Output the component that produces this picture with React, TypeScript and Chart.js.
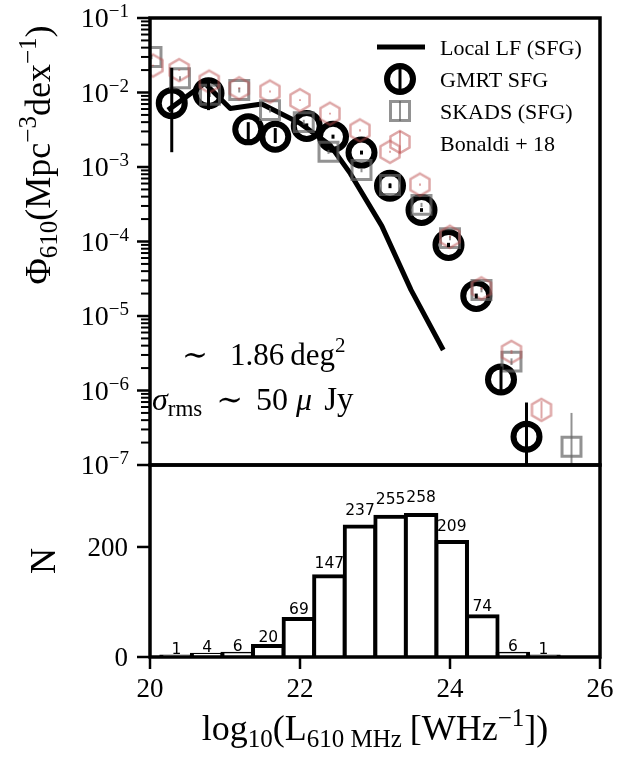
import { useEffect, useRef } from "react";
import { Chart, registerables } from "chart.js";

Chart.register(...registerables);

// ---- Luminosity function: log10 L610 [W/Hz] vs Phi [Mpc^-3 dex^-1] ----
const gmrtLogL = [20.29, 20.78, 21.31, 21.67, 22.09, 22.44, 22.82, 23.2, 23.62, 23.98, 24.35, 24.68, 25.02];
const gmrtPhi = [7.2e-3, 9.8e-3, 3.2e-3, 2.55e-3, 3.55e-3, 2.55e-3, 1.56e-3, 5.6e-4, 2.65e-4, 9.0e-5, 1.86e-5, 1.41e-6, 2.4e-7];
const gmrtPhiLow = [1.58e-3, 5.8e-3, 2.3e-3, 2.1e-3, 3.25e-3, 2.4e-3, 1.47e-3, 5.2e-4, 2.5e-4, 8.4e-5, 1.72e-5, 9.5e-7, 1e-8];
const gmrtPhiHigh = [2.14e-2, 1.57e-2, 4.0e-3, 3.33e-3, 3.85e-3, 2.72e-3, 1.66e-3, 6.0e-4, 2.8e-4, 9.6e-5, 2.0e-5, 2.1e-6, 6.9e-7];

const localLogL = [20.24, 20.73, 21.07, 21.49, 22.0, 22.4, 22.67, 23.09, 23.48, 23.91];
const localPhi = [5.8e-3, 1.33e-2, 6.1e-3, 7.0e-3, 3.86e-3, 1.97e-3, 8.2e-4, 1.62e-4, 2.24e-5, 3.5e-6];

const skadsLogL = [20.02, 20.4, 20.8, 21.19, 21.6, 22.05, 22.38, 22.82, 23.2, 23.62, 24.0, 24.42, 24.82, 25.62];
const skadsPhi = [3.0e-2, 1.55e-2, 9.3e-3, 1.08e-2, 5.8e-3, 4.0e-3, 1.6e-3, 9.1e-4, 5.75e-4, 3.1e-4, 1.11e-4, 2.24e-5, 2.44e-6, 1.76e-7];
const skadsPhiLow = [2.8e-2, 1.45e-2, 8.7e-3, 1.0e-2, 5.4e-3, 3.7e-3, 1.5e-3, 8.5e-4, 5.4e-4, 2.9e-4, 1.04e-4, 2.08e-5, 2.2e-6, 1e-8];
const skadsPhiHigh = [3.2e-2, 1.65e-2, 9.9e-3, 1.16e-2, 6.2e-3, 4.3e-3, 1.7e-3, 9.7e-4, 6.1e-4, 3.3e-4, 1.18e-4, 2.4e-5, 2.7e-6, 5.0e-7];

const bonaldiLogL = [20.04, 20.39, 20.79, 21.19, 21.6, 22.0, 22.4, 22.8, 23.2, 23.6, 24.0, 24.42, 24.82, 25.22];
const bonaldiPhi = [2.3e-2, 2.0e-2, 1.4e-2, 1.14e-2, 1.03e-2, 7.9e-3, 5.2e-3, 3.1e-3, 1.6e-3, 5.8e-4, 1.16e-4, 2.35e-5, 3.3e-6, 5.5e-7];
const bonaldiPhiLow = [2.25e-2, 1.95e-2, 1.37e-2, 1.11e-2, 1.0e-2, 7.7e-3, 5.05e-3, 3.0e-3, 1.55e-3, 5.6e-4, 1.12e-4, 2.25e-5, 3.1e-6, 4.2e-7];
const bonaldiPhiHigh = [2.35e-2, 2.05e-2, 1.43e-2, 1.17e-2, 1.06e-2, 8.1e-3, 5.35e-3, 3.2e-3, 1.65e-3, 6.0e-4, 1.2e-4, 2.45e-5, 3.5e-6, 7.2e-7];

// ---- Source counts per luminosity bin ----
const binCenters = [20.354, 20.762, 21.169, 21.577, 21.985, 22.392, 22.8, 23.208, 23.615, 24.023, 24.431, 24.838, 25.246];
const binCounts = [1, 4, 6, 20, 69, 147, 237, 255, 258, 209, 74, 6, 1];

// ---- Axis ticks ----
const phiExponents = [-1, -2, -3, -4, -5, -6, -7];
const lumTicks = [20, 22, 24, 26];
const countTicks = [0, 200];

const SERIF = '"Liberation Serif", "DejaVu Serif", serif';
const GMRT_C = "#000";
const SKADS_C = "rgba(100,100,100,0.7)";
const BONALDI_C = "rgba(190,80,80,0.5)";

type Seg = { t: string; s: number; dy?: number; it?: boolean; gap?: number; fam?: string };

const segFont = (g: Seg) => `${g.it ? "italic " : ""}${g.s}px ${g.fam ?? SERIF}`;

function richWidth(ctx: CanvasRenderingContext2D, segs: Seg[]) {
  let w = 0;
  for (const g of segs) {
    ctx.font = segFont(g);
    w += (g.gap ?? 0) + ctx.measureText(g.t).width;
  }
  return w;
}

function drawRich(ctx: CanvasRenderingContext2D, segs: Seg[], x: number, y: number, align: "left" | "center" | "right") {
  const w = richWidth(ctx, segs);
  let cx = align === "left" ? x : align === "right" ? x - w : x - w / 2;
  ctx.textAlign = "left";
  ctx.textBaseline = "alphabetic";
  for (const g of segs) {
    cx += g.gap ?? 0;
    ctx.font = segFont(g);
    ctx.fillText(g.t, cx, y + (g.dy ?? 0));
    cx += ctx.measureText(g.t).width;
  }
}

function hexPath(ctx: CanvasRenderingContext2D, cx: number, cy: number, r: number) {
  ctx.beginPath();
  for (let k = 0; k < 6; k++) {
    const a = -Math.PI / 2 + (k * Math.PI) / 3;
    const px = cx + r * Math.cos(a);
    const py = cy + r * Math.sin(a);
    if (k === 0) ctx.moveTo(px, py);
    else ctx.lineTo(px, py);
  }
  ctx.closePath();
}

function hexagonSprite(r: number, lw: number, color: string) {
  const size = 2 * Math.ceil(r + lw);
  const c = document.createElement("canvas");
  c.width = size;
  c.height = size;
  const g = c.getContext("2d")!;
  hexPath(g, size / 2, size / 2, r);
  g.strokeStyle = color;
  g.lineWidth = lw;
  g.stroke();
  return c;
}

function vline(ctx: CanvasRenderingContext2D, x: number, y0: number, y1: number) {
  ctx.beginPath();
  ctx.moveTo(x, y0);
  ctx.lineTo(x, y1);
  ctx.stroke();
}

const errorBarsPlugin = {
  id: "lfErrorBars",
  afterDatasetsDraw(chart: any) {
    const { ctx, chartArea: a, scales } = chart;
    const xs = scales.x;
    const ys = scales.y;
    ctx.save();
    ctx.beginPath();
    ctx.rect(a.left, a.top, a.right - a.left, a.bottom - a.top);
    ctx.clip();
    const sets: [number[], number[], number[], string, number][] = [
      [skadsLogL, skadsPhiLow, skadsPhiHigh, SKADS_C, 2],
      [bonaldiLogL, bonaldiPhiLow, bonaldiPhiHigh, BONALDI_C, 2],
      [gmrtLogL, gmrtPhiLow, gmrtPhiHigh, GMRT_C, 3],
    ];
    for (const [lx, lo, hi, col, lw] of sets) {
      ctx.strokeStyle = col;
      ctx.lineWidth = lw;
      lx.forEach((x, i) => {
        vline(ctx, xs.getPixelForValue(x), ys.getPixelForValue(lo[i]), ys.getPixelForValue(hi[i]));
      });
    }
    ctx.restore();
  },
};

const lfFramePlugin = {
  id: "lfFrame",
  afterDraw(chart: any) {
    const { ctx, chartArea: a, scales } = chart;
    const ys = scales.y;
    ctx.save();
    ctx.fillStyle = "#000";
    ctx.strokeStyle = "#000";

    // y ticks: decades and minor 2..9
    phiExponents.forEach((e) => {
      const ty = ys.getPixelForValue(Math.pow(10, e));
      ctx.lineWidth = 2.5;
      ctx.beginPath();
      ctx.moveTo(a.left - 13, ty);
      ctx.lineTo(a.left, ty);
      ctx.stroke();
      if (e < -1) {
        for (let m = 2; m <= 9; m++) {
          const my = ys.getPixelForValue(m * Math.pow(10, e));
          ctx.lineWidth = 2;
          ctx.beginPath();
          ctx.moveTo(a.left - 9, my);
          ctx.lineTo(a.left, my);
          ctx.stroke();
        }
      }
      drawRich(
        ctx,
        [
          { t: "10", s: 28 },
          { t: "\u2212" + String(-e), s: 19, dy: -10 },
        ],
        129,
        ty + 9,
        "right"
      );
    });

    // frame
    ctx.lineWidth = 3.5;
    ctx.strokeRect(a.left, a.top, a.right - a.left, a.bottom - a.top);

    // y title
    ctx.save();
    ctx.translate(50, 155);
    ctx.rotate(-Math.PI / 2);
    drawRich(
      ctx,
      [
        { t: "\u03A6", s: 36 },
        { t: "610", s: 25, dy: 7 },
        { t: "(Mpc", s: 36 },
        { t: "\u22123", s: 25, dy: -14 },
        { t: "dex", s: 36 },
        { t: "\u22121", s: 25, dy: -14 },
        { t: ")", s: 36 },
      ],
      0,
      0,
      "center"
    );
    ctx.restore();

    // survey annotation
    drawRich(
      ctx,
      [
        { t: "\u223C", s: 31 },
        { t: "1.86", s: 31, gap: 22 },
        { t: "deg", s: 31, gap: 6 },
        { t: "2", s: 21, dy: -13 },
      ],
      182,
      365,
      "left"
    );
    drawRich(
      ctx,
      [
        { t: "\u03C3", s: 32, it: true },
        { t: "rms", s: 23, dy: 6 },
        { t: "\u223C", s: 32, gap: 14 },
        { t: "50", s: 32, gap: 13 },
        { t: "\u03BC", s: 32, it: true, gap: 8 },
        { t: "Jy", s: 33, gap: 12 },
      ],
      152,
      410,
      "left"
    );

    // legend
    const lx = 400;
    const tx = 440;
    ctx.lineWidth = 5;
    ctx.beginPath();
    ctx.moveTo(377, 47);
    ctx.lineTo(425, 47);
    ctx.stroke();

    ctx.lineWidth = 6;
    ctx.beginPath();
    ctx.arc(lx, 79, 13, 0, Math.PI * 2);
    ctx.stroke();
    ctx.lineWidth = 3;
    vline(ctx, lx, 68, 90);

    ctx.strokeStyle = SKADS_C;
    ctx.lineWidth = 3;
    ctx.strokeRect(lx - 9.5, 111 - 9.5, 19, 19);
    ctx.lineWidth = 2;
    vline(ctx, lx, 101, 121);

    ctx.strokeStyle = BONALDI_C;
    ctx.lineWidth = 2.5;
    hexPath(ctx, lx, 142, 11);
    ctx.stroke();
    ctx.lineWidth = 2;
    vline(ctx, lx, 131, 153);

    ctx.fillStyle = "#000";
    ctx.font = `22px ${SERIF}`;
    ctx.textAlign = "left";
    ctx.textBaseline = "alphabetic";
    ctx.fillText("Local LF (SFG)", tx, 55);
    ctx.fillText("GMRT SFG", tx, 87);
    ctx.fillText("SKADS (SFG)", tx, 119);
    ctx.fillText("Bonaldi + 18", tx, 151);
    ctx.restore();
  },
};

const histFramePlugin = {
  id: "histFrame",
  afterDatasetsDraw(chart: any) {
    const { ctx, scales } = chart;
    const xs = scales.x;
    const ys = scales.y;
    ctx.save();
    ctx.fillStyle = "#000";
    ctx.font = '15.5px "DejaVu Sans", sans-serif';
    ctx.textAlign = "center";
    ctx.textBaseline = "alphabetic";
    binCenters.forEach((x, i) => {
      const n = binCounts[i];
      ctx.fillText(String(n), xs.getPixelForValue(x), ys.getPixelForValue(n * 1.07 + 5));
    });
    ctx.restore();
  },
  afterDraw(chart: any) {
    const { ctx, chartArea: a, scales } = chart;
    const xs = scales.x;
    const ys = scales.y;
    ctx.save();
    ctx.strokeStyle = "#000";
    ctx.fillStyle = "#000";
    ctx.lineWidth = 2.5;
    countTicks.forEach((v) => {
      const ty = ys.getPixelForValue(v);
      ctx.beginPath();
      ctx.moveTo(a.left - 13, ty);
      ctx.lineTo(a.left, ty);
      ctx.stroke();
      drawRich(ctx, [{ t: String(v), s: 27 }], 128, ty + 9, "right");
    });
    lumTicks.forEach((v) => {
      const tx = xs.getPixelForValue(v);
      ctx.beginPath();
      ctx.moveTo(tx, a.bottom);
      ctx.lineTo(tx, a.bottom + 12);
      ctx.stroke();
      drawRich(ctx, [{ t: String(v), s: 27 }], tx, a.bottom + 40, "center");
    });
    ctx.lineWidth = 3.5;
    ctx.strokeRect(a.left, a.top, a.right - a.left, a.bottom - a.top);

    // x title
    drawRich(
      ctx,
      [
        { t: "log", s: 36 },
        { t: "10", s: 25, dy: 7 },
        { t: "(L", s: 36 },
        { t: "610 MHz", s: 25, dy: 7 },
        { t: "[WHz", s: 36, gap: 8 },
        { t: "\u22121", s: 25, dy: -14 },
        { t: "])", s: 36 },
      ],
      (a.left + a.right) / 2,
      a.bottom + 83,
      "center"
    );

    // y title
    ctx.save();
    ctx.translate(55, (a.top + a.bottom) / 2);
    ctx.rotate(-Math.PI / 2);
    drawRich(ctx, [{ t: "N", s: 36 }], 0, 0, "center");
    ctx.restore();
    ctx.restore();
  },
};

export default function App() {
  const topRef = useRef<HTMLCanvasElement>(null);
  const botRef = useRef<HTMLCanvasElement>(null);

  useEffect(() => {
    const hex = hexagonSprite(11, 2.5, BONALDI_C);
    const pts = (xs: number[], ys: number[]) => xs.map((x, i) => ({ x, y: ys[i] }));

    const lf = new Chart(topRef.current!, {
      type: "scatter",
      data: {
        datasets: [
          {
            label: "Bonaldi + 18",
            data: pts(bonaldiLogL, bonaldiPhi),
            pointStyle: hex as any,
            pointRadius: 11,
            order: 1,
            clip: 0,
          },
          {
            label: "SKADS (SFG)",
            data: pts(skadsLogL, skadsPhi),
            pointStyle: "rect",
            pointRadius: 13.4,
            borderWidth: 3,
            borderColor: SKADS_C,
            backgroundColor: "rgba(0,0,0,0)",
            order: 2,
            clip: 0,
          },
          {
            label: "GMRT SFG",
            data: pts(gmrtLogL, gmrtPhi),
            pointStyle: "circle",
            pointRadius: 13,
            borderWidth: 6,
            borderColor: GMRT_C,
            backgroundColor: "rgba(0,0,0,0)",
            order: 3,
            clip: 0,
          },
          {
            type: "line",
            label: "Local LF (SFG)",
            data: pts(localLogL, localPhi),
            borderColor: "#000",
            borderWidth: 5,
            pointRadius: 0,
            tension: 0,
            borderJoinStyle: "round",
            order: 4,
            clip: 0,
          } as any,
        ],
      },
      options: {
        responsive: false,
        animation: false,
        layout: { autoPadding: false, padding: { left: 150, right: 19, top: 18, bottom: 25 } },
        scales: {
          x: { type: "linear", min: 20, max: 26, display: false, ticks: { stepSize: 2 } },
          y: { type: "logarithmic", min: 1e-7, max: 1e-1, display: false },
        },
        plugins: { legend: { display: false }, tooltip: { enabled: false } },
      } as any,
      plugins: [errorBarsPlugin, lfFramePlugin],
    });

    const hist = new Chart(botRef.current!, {
      type: "bar",
      data: {
        datasets: [
          {
            label: "N",
            data: pts(binCenters, binCounts),
            backgroundColor: "#fff",
            borderColor: "#000",
            borderWidth: 4,
            inflateAmount: 2,
            borderSkipped: "start",
            barPercentage: 1,
            categoryPercentage: 1,
          } as any,
        ],
      },
      options: {
        responsive: false,
        animation: false,
        layout: { autoPadding: false, padding: { left: 150, right: 19, top: 5, bottom: 101 } },
        scales: {
          x: { type: "linear", min: 20, max: 26, offset: false, display: false, ticks: { stepSize: 2 } },
          y: { type: "linear", min: 0, max: 349, display: false },
        },
        plugins: { legend: { display: false }, tooltip: { enabled: false } },
      } as any,
      plugins: [histFramePlugin],
    });

    return () => {
      lf.destroy();
      hist.destroy();
    };
  }, []);

  return (
    <div style={{ position: "absolute", left: 0, top: 0, width: 619, height: 758, background: "#fff" }}>
      <canvas ref={topRef} width={619} height={490} style={{ position: "absolute", left: 0, top: 0 }} />
      <canvas ref={botRef} width={619} height={298} style={{ position: "absolute", left: 0, top: 460 }} />
    </div>
  );
}
